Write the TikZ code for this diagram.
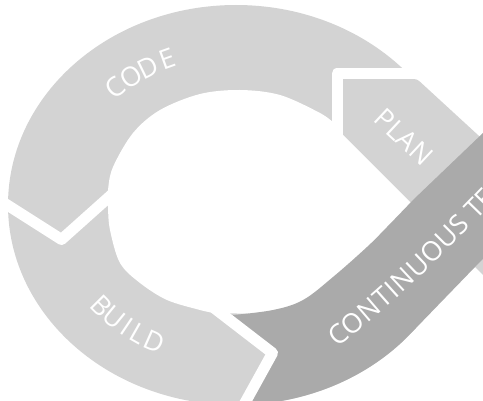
\documentclass[tikz,border=0pt]{standalone}
\usepackage{fontspec}
\newfontfamily\lblfont{Open Sans}
\usetikzlibrary{calc}
\definecolor{segLight}{RGB}{211,211,211}
\definecolor{segDark}{RGB}{170,170,170}
\begin{document}
\begin{tikzpicture}[x=1pt,y=1pt,
  lbl/.style={text=white, font=\lblfont\fontsize{27}{27}\selectfont, inner sep=0pt},
  gapline/.style={draw=white, line width=11pt, line join=round, line cap=butt}]
\useasboundingbox (0,0) rectangle (483,400);
\clip (0,0) rectangle (483,400);
% light ring and PLAN segment
\fill[segLight] (236,195) ellipse [x radius=228, y radius=200];
\fill[segLight, rounded corners=3pt] (342.5,265.5) -- (342.5,321) -- (417,321) -- (540,208) -- (540,68) -- cycle;
% inner hole
\fill[white] plot[smooth, tension=0.55] coordinates {(214,87) (200,90) (167,100) (140,117) (120,137) (110,170) (108,193) (108,210) (113,233) (133,267) (160,290) (200,306) (240,310) (280,305) (320,287) (335,276)} -- (342.5,265.5) -- (412,196) -- (380,155) -- (340,118) -- (300,93) -- (260,86) -- cycle;
% continuous testing band
\fill[segDark] (215,91) -- plot[smooth, tension=0.6] coordinates {(233,85) (273,90) (303,100) (333,123) (367,153) (387,173) (413,200)} -- (520,302.4) -- (520,179.5) -- (409.9,65.7) arc[start angle=-40.3, end angle=-80, x radius=228, y radius=200] -- (241,-10) -- (272.5,47) -- cycle;
% white gaps between segments
\draw[gapline] (-10,206) -- (61.5,160.5) -- (118,211);
\draw[gapline] (440,326.5) -- (337,326.5) -- (337,255);
\draw[gapline] (205,99) -- (272.5,47) -- (241,-10);
% labels
\foreach \ch/\t [count=\i] in {C/132,O/125.4,D/118.8,E/112}{
  \pgfmathsetmacro{\rot}{atan2(-155*cos(\t),174*sin(\t))}
  \node[lbl, rotate=\rot] (code\i) at ($(232,197)+(\t:174 and 155)$) {\ch};
}
\foreach \ch/\t [count=\i] in {B/221.5,U/227.5,I/232.8,L/237.5,D/243.5}{
  \pgfmathsetmacro{\rot}{atan2(155*cos(\t),-174*sin(\t))}
  \node[lbl, rotate=\rot] (build\i) at ($(232,197)+(\t:174 and 155)$) {\ch};
}
\node[lbl, rotate=-43] (plan) at (404,263) {PLAN};
\path (338,65) .. controls (390.8,106.2) and (438.5,153.8) .. (485,202)
  node[lbl, sloped, pos=0] (ct1) {C}
  node[lbl, sloped, pos=0.094] (ct2) {O}
  node[lbl, sloped, pos=0.200] (ct3) {N}
  node[lbl, sloped, pos=0.291] (ct4) {T}
  node[lbl, sloped, pos=0.349] (ct5) {I}
  node[lbl, sloped, pos=0.423] (ct6) {N}
  node[lbl, sloped, pos=0.526] (ct7) {U}
  node[lbl, sloped, pos=0.628] (ct8) {O}
  node[lbl, sloped, pos=0.730] (ct9) {U}
  node[lbl, sloped, pos=0.816] (ct10) {S}
  node[lbl, sloped, pos=0.926] (ct11) {T}
  node[lbl, sloped, pos=1] (ct12) {E};
\end{tikzpicture}
\end{document}
